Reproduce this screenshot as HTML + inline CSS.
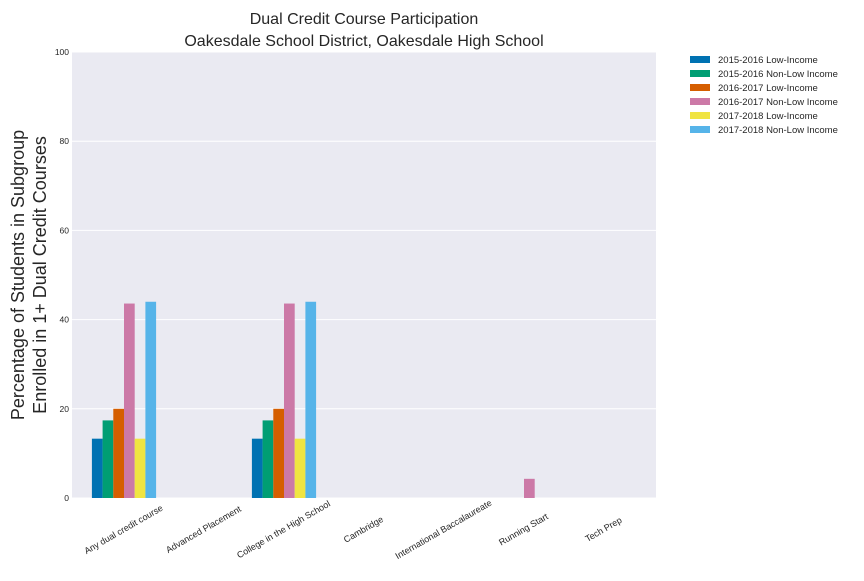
<!DOCTYPE html>
<html><head><meta charset="utf-8"><style>
body{margin:0;background:#fff;font-family:"Liberation Sans",sans-serif}
</style></head><body>
<svg id="chart" width="864" height="576" xmlns="http://www.w3.org/2000/svg" font-family="Liberation Sans, sans-serif">
<rect x="0" y="0" width="864" height="576" fill="#fff"/>
<text x="364" y="24" font-size="16" text-anchor="middle" fill="#262626">Dual Credit Course Participation</text>
<text x="364" y="46" font-size="16" text-anchor="middle" fill="#262626">Oakesdale School District, Oakesdale High School</text>
<rect x="72" y="52" width="584" height="446" fill="#EAEAF2"/>
<g id="grid"></g><g id="bars"></g><g id="xlabels"></g><g id="ylabels"></g><g id="legend"></g>
<g transform="translate(24,275) rotate(-90)">
<text x="0" y="0" font-size="18" text-anchor="middle" fill="#262626">Percentage of Students in Subgroup</text>
<text x="0" y="22" font-size="18" text-anchor="middle" fill="#262626">Enrolled in 1+ Dual Credit Courses</text>
</g>
</svg>
<script>
const categories=["Any dual credit course","Advanced Placement","College in the High School","Cambridge","International Baccalaureate","Running Start","Tech Prep"];
const seriesNames=["2015-2016 Low-Income","2015-2016 Non-Low Income","2016-2017 Low-Income","2016-2017 Non-Low Income","2017-2018 Low-Income","2017-2018 Non-Low Income"];
const s1516Low=[13.3,0,13.3,0,0,0,0];
const s1516Non=[17.4,0,17.4,0,0,0,0];
const s1617Low=[20,0,20,0,0,0,0];
const s1617Non=[43.6,0,43.6,0,0,4.3,0];
const s1718Low=[13.3,0,13.3,0,0,0,0];
const s1718Non=[44,0,44,0,0,0,0];
const yTicks=[0,20,40,60,80,100];
const colors=["#0072B2","#009E73","#D55E00","#CC79A7","#F0E442","#56B4E9"];
const series=[s1516Low,s1516Non,s1617Low,s1617Non,s1718Low,s1718Non];
const NS="http://www.w3.org/2000/svg";
const L=72,R=656,T=52,B=498;
const xScale=i=>L+(R-L)*(i+0.65)/7.3;
const yScale=v=>B-(B-T)*v/100;
const bw=10.7;
function mk(tag,attrs,parent){const e=document.createElementNS(NS,tag);for(const k in attrs)e.setAttribute(k,attrs[k]);document.getElementById(parent).appendChild(e);return e;}
yTicks.forEach(t=>{
 const g=mk('line',{x1:L,x2:R,y1:yScale(t),y2:yScale(t),stroke:'#fff','stroke-width':1},'grid');
 
 
 const tx=mk('text',{x:L-3,y:yScale(t)+3,'font-size':8.5,'text-anchor':'end',fill:'#262626'},'ylabels');
 tx.textContent=t;
 
 
});
categories.forEach((c,i)=>{
 const cx=xScale(i);
 series.forEach((s,j)=>{
  const v=s[i]; if(v<=0)return;
  const r=mk('rect',{x:cx-3*bw+j*bw,y:yScale(v),width:bw,height:yScale(0)-yScale(v),fill:colors[j]},'bars');
  
  
 });
 const t=mk('text',{x:0,y:0,'font-size':9,'text-anchor':'middle',fill:'#262626',transform:`translate(${cx+1},${532}) rotate(-30)`},'xlabels');
 t.textContent=c;
 
 
});
seriesNames.forEach((n,j)=>{
 const y=59.5+14*j;
 const r=mk('rect',{x:690,y:y-3.5,width:20,height:7,fill:colors[j]},'legend');
 
 
 const t=mk('text',{x:718,y:y+3.3,'font-size':9.5,fill:'#262626'},'legend');
 t.textContent=n;
 
 
});
</script>
</body></html>
